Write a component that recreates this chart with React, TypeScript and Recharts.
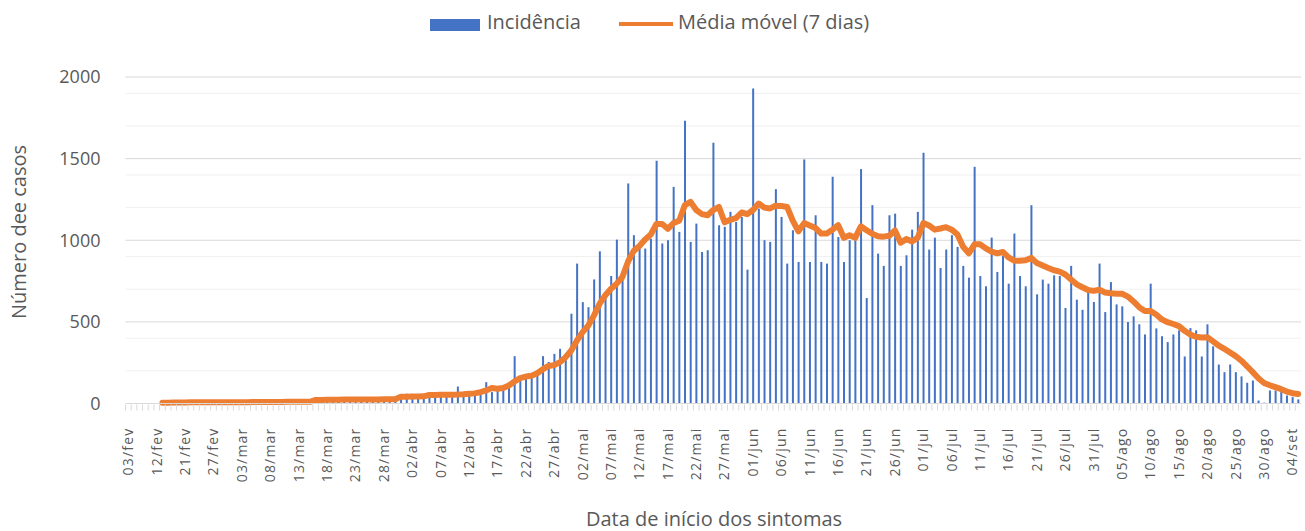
import React from "react";
import { ComposedChart, Bar, Line, XAxis, YAxis, CartesianGrid } from "recharts";

// first days are not consecutive (only dates with notified cases)
const earlyDates = [
  "03/fev", "05/fev", "06/fev", "08/fev", "10/fev", "12/fev", "14/fev", "15/fev", "17/fev", "19/fev",
  "21/fev", "22/fev", "24/fev", "25/fev", "26/fev", "27/fev", "28/fev", "29/fev", "01/mar", "02/mar",
];

// daily from 03/mar to 05/set
const months: [string, number, number][] = [
  ["mar", 3, 31], ["abr", 1, 30], ["mai", 1, 31], ["jun", 1, 30],
  ["jul", 1, 31], ["ago", 1, 31], ["set", 1, 5],
];
const dailyDates: string[] = [];
months.forEach(([m, from, to]) => {
  for (let d = from; d <= to; d++) dailyDates.push(`${String(d).padStart(2, "0")}/${m}`);
});
const dates = [...earlyDates, ...dailyDates];

const incidencia = [
  0, 1, 0, 0, 1, 2,
  3, 5, 2, 8, 4, 6, 10, 3, 7, 5, 9, 12, 4, 8,
  6, 11, 7, 9, 5, 13, 8, 10, 6, 12, 9, 7, 11,
  18, 25, 20, 30, 22, 28, 15, 26, 32, 19, 24, 35, 21, 28, 30,
  40, 60, 38, 45, 42, 48, 55, 50, 58, 52,
  104, 55, 58, 60, 65, 131, 70, 85, 90, 95,
  290, 141, 150, 160, 182, 290, 254, 304, 335, 272,
  550, 857, 621, 590, 760, 932, 683, 781, 1004, 797,
  1348, 1031, 949, 949, 1010, 1487, 980, 1000, 1327, 1051,
  1732, 990, 1102, 928, 939, 1597, 1092, 1082, 1174, 1112,
  1143, 820, 1930, 1194, 1000, 990, 1313, 1143, 857, 1061,
  867, 1495, 867, 1153, 867, 857, 1389, 1020, 867, 1000,
  1000, 1436, 646, 1215, 918, 843, 1153, 1163, 843, 908,
  1065, 1174, 1536, 943, 1016, 830, 943, 1031, 959, 843,
  771, 1450, 781, 718, 1016, 806, 904, 734, 1041, 781,
  718, 1215, 669, 759, 734, 785, 781, 585, 843, 636,
  574, 683, 622, 857, 560, 744, 607, 595, 499, 534,
  485, 423, 734, 460, 412, 376, 423, 448, 288, 462,
  448, 288, 485, 350, 239, 192, 239, 192, 166, 127,
  141, 18, 5, 80, 80, 70, 49, 39, 25,
];

const mediaMovel: (number | null)[] = [
  null, null, null, null, null, null,
  5, 5, 6, 6, 6, 7, 7, 7, 7, 8, 8, 8, 8, 8,
  8, 8, 9, 9, 9, 9, 9, 9, 10, 10, 10, 10, 10,
  22, 22, 23, 23, 23, 24, 24, 24, 25, 25, 25, 25, 26, 26, 26,
  42, 42, 43, 43, 44, 52, 52, 53, 53, 54,
  55, 57, 60, 62, 70, 80, 95, 90, 95, 110,
  135, 155, 165, 170, 185, 210, 230, 235, 253, 284,
  325, 386, 437, 478, 540, 612, 663, 703, 734, 775,
  870, 935, 965, 1005, 1035, 1100, 1100, 1070, 1105, 1120,
  1215, 1235, 1185, 1160, 1153, 1185, 1204, 1110, 1125, 1135,
  1170, 1160, 1185, 1225, 1200, 1195, 1212, 1210, 1204, 1120,
  1055, 1105, 1090, 1075, 1041, 1041, 1065, 1092, 1015, 1030,
  1015, 1085, 1062, 1040, 1025, 1022, 1028, 1060, 985, 1008,
  992, 1015, 1105, 1090, 1065, 1072, 1080, 1065, 1035, 960,
  920, 975, 975, 950, 930, 920, 928, 895, 875, 874,
  877, 892, 860, 845, 830, 816, 808, 790, 760, 730,
  712, 695, 690, 697, 680, 675, 673, 672, 655, 625,
  590, 567, 566, 545, 515, 498, 487, 474, 445, 422,
  409, 404, 406, 380, 355, 335, 312, 290, 262, 228,
  192, 155, 126, 112, 100, 88, 73, 63, 58,
];

const yTicks = [0, 500, 1000, 1500, 2000];
const minorGrid = [100, 200, 300, 400, 600, 700, 800, 900, 1100, 1200, 1300, 1400, 1600, 1700, 1800, 1900];

const data = dates.map((date, i) => ({ date, inc: incidencia[i], mm: mediaMovel[i] }));
const labelled = new Set(dates.filter((_, i) => i % 5 === 0));

const W = 1305;
const H = 531;
const PLOT_L = 125.5;
const PLOT_R = 1301;
const PLOT_T = 77;
const PLOT_B = 403.5;
const BAND = (PLOT_R - PLOT_L) / dates.length;
const FONT = "'Open Sans', sans-serif";
const TXT = "#595959";

const DateTick = (props: any) => {
  const { x, y, payload } = props;
  return (
    <g>
      <line x1={x - BAND / 2} x2={x - BAND / 2} y1={y + 1} y2={y + 7} stroke="#d9d9d9" />
      {labelled.has(payload.value) && (
        <text
          x={x}
          y={y + 24}
          transform={`rotate(-90, ${x}, ${y + 24})`}
          textAnchor="end"
          dy="0.35em"
          fontSize={14}
          letterSpacing={1.2}
          fill={TXT}
          fontFamily={FONT}
        >
          {payload.value}
        </text>
      )}
    </g>
  );
};

export default function App() {
  return (
    <div style={{ position: "absolute", left: 0, top: 0, width: W, height: H, background: "#fff", fontFamily: FONT }}>
      <div style={{ position: "absolute", left: 430, top: 19, width: 50, height: 12, background: "#4472C4" }} />
      <div style={{ position: "absolute", left: 487, top: 8, fontSize: 20, color: TXT, lineHeight: "28px" }}>Incidência</div>
      <div style={{ position: "absolute", left: 619, top: 22, width: 54, height: 4, background: "#ED7D31" }} />
      <div style={{ position: "absolute", left: 678, top: 8, fontSize: 20, color: TXT, lineHeight: "28px" }}>
        Média móvel (7 dias)
      </div>
      <div
        style={{
          position: "absolute", left: 18, top: 232, fontSize: 20, color: TXT, whiteSpace: "nowrap",
          transform: "translate(-50%, -50%) rotate(-90deg)",
        }}
      >
        Número dee casos
      </div>
      <div
        style={{
          position: "absolute", left: 714, top: 518, fontSize: 20, color: TXT, whiteSpace: "nowrap",
          transform: "translate(-50%, -50%)",
        }}
      >
        Data de início dos sintomas
      </div>
      <ComposedChart
        width={W}
        height={H}
        data={data}
        margin={{ top: PLOT_T, right: W - PLOT_R, bottom: H - PLOT_B - 80, left: PLOT_L - 60 }}
        style={{ position: "absolute", left: 0, top: 0 }}
      >
        <CartesianGrid horizontalValues={minorGrid} vertical={false} stroke="#f0f0f0" strokeWidth={1} />
        <CartesianGrid horizontalValues={yTicks.slice(1)} vertical={false} stroke="#d9d9d9" strokeWidth={1} />
        <XAxis
          dataKey="date"
          interval={0}
          height={80}
          tickLine={false}
          tickSize={0}
          tickMargin={0}
          axisLine={{ stroke: "#d9d9d9" }}
          tick={<DateTick />}
        />
        <YAxis
          width={60}
          domain={[0, 2000]}
          ticks={yTicks}
          axisLine={false}
          tickLine={false}
          tickMargin={19}
          tick={{ fill: TXT, fontSize: 18, fontFamily: FONT }}
        />
        <Bar dataKey="inc" fill="#4472C4" barSize={2} isAnimationActive={false} />
        <Line
          dataKey="mm"
          type="linear"
          stroke="#ED7D31"
          strokeWidth={6}
          strokeLinejoin="round"
          strokeLinecap="round"
          dot={false}
          activeDot={false}
          isAnimationActive={false}
        />
      </ComposedChart>
    </div>
  );
}
